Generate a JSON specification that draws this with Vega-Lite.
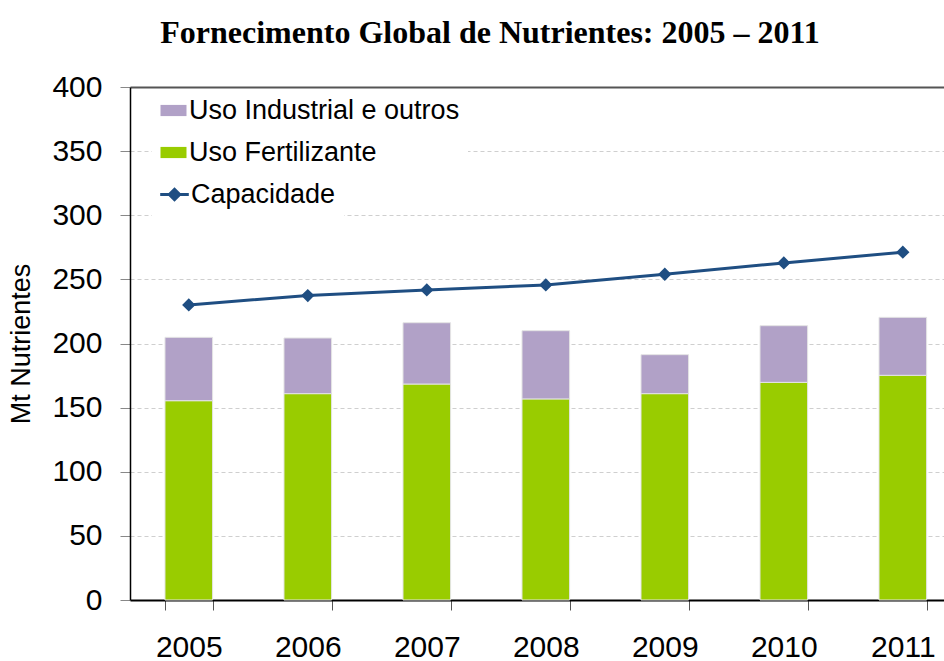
{
  "$schema": "https://vega.github.io/schema/vega-lite/v6.json",
  "width": 814,
  "height": 513,
  "autosize": {"type": "none"},
  "padding": {"left": 130, "top": 87, "right": 0, "bottom": 61},
  "background": "white",
  "title": {
    "text": "Fornecimento Global de Nutrientes: 2005 – 2011",
    "font": "Liberation Serif",
    "fontSize": 32,
    "fontWeight": "bold",
    "color": "black",
    "anchor": "middle",
    "frame": "group",
    "dx": -47,
    "offset": 22
  },
  "datasets": {
    "barras": [
      {"ano": "2005", "serie": "Uso Fertilizante", "valor": 155.4},
      {"ano": "2005", "serie": "Uso Industrial e outros", "valor": 49.4},
      {"ano": "2006", "serie": "Uso Fertilizante", "valor": 160.9},
      {"ano": "2006", "serie": "Uso Industrial e outros", "valor": 43.4},
      {"ano": "2007", "serie": "Uso Fertilizante", "valor": 168.4},
      {"ano": "2007", "serie": "Uso Industrial e outros", "valor": 47.8},
      {"ano": "2008", "serie": "Uso Fertilizante", "valor": 156.8},
      {"ano": "2008", "serie": "Uso Industrial e outros", "valor": 53.2},
      {"ano": "2009", "serie": "Uso Fertilizante", "valor": 160.9},
      {"ano": "2009", "serie": "Uso Industrial e outros", "valor": 30.4},
      {"ano": "2010", "serie": "Uso Fertilizante", "valor": 169.7},
      {"ano": "2010", "serie": "Uso Industrial e outros", "valor": 44.2},
      {"ano": "2011", "serie": "Uso Fertilizante", "valor": 175.2},
      {"ano": "2011", "serie": "Uso Industrial e outros", "valor": 45.2}
    ],
    "capacidade": [
      {"ano": "2005", "serie": "Capacidade", "valor": 230.1},
      {"ano": "2006", "serie": "Capacidade", "valor": 237.4},
      {"ano": "2007", "serie": "Capacidade", "valor": 241.8},
      {"ano": "2008", "serie": "Capacidade", "valor": 245.7},
      {"ano": "2009", "serie": "Capacidade", "valor": 254.0},
      {"ano": "2010", "serie": "Capacidade", "valor": 262.8},
      {"ano": "2011", "serie": "Capacidade", "valor": 271.2}
    ]
  },
  "encoding": {
    "x": {
      "field": "ano",
      "type": "ordinal",
      "scale": {"paddingInner": 0.6, "paddingOuter": 0.22, "align": 0.668},
      "axis": {
        "title": null,
        "labelAngle": 0,
        "labelFont": "Liberation Sans",
        "labelFontSize": 30,
        "labelColor": "black",
        "labelPadding": 22,
        "tickBand": "extent",
        "tickSize": 10,
        "tickColor": "#555",
        "tickWidth": 1,
        "domainColor": "black",
        "domainWidth": 2,
        "grid": false
      }
    }
  },
  "layer": [
    {
      "data": {"name": "barras"},
      "mark": {"type": "bar", "stroke": "#e4e4e4", "strokeWidth": 1},
      "encoding": {
        "y": {
          "field": "valor",
          "type": "quantitative",
          "stack": "zero",
          "scale": {"domain": [0, 400], "nice": false},
          "axis": {
            "title": "Mt Nutrientes",
            "titleFont": "Liberation Sans",
            "titleFontSize": 27,
            "titleFontWeight": "normal",
            "titleColor": "black",
            "titlePadding": 16,
            "values": [0, 50, 100, 150, 200, 250, 300, 350, 400],
            "labelFont": "Liberation Sans",
            "labelFontSize": 30,
            "labelColor": "black",
            "labelPadding": 18,
            "tickSize": 10,
            "tickColor": "#888",
            "domainColor": "black",
            "domainWidth": 1.5,
            "grid": true,
            "gridColor": {"condition": {"test": "datum.value === 400", "value": "#555"}, "value": "#cfcfcf"},
            "gridDash": {"condition": {"test": "datum.value === 400", "value": []}, "value": [4, 3]},
            "gridWidth": {"condition": {"test": "datum.value === 400", "value": 2}, "value": 1}
          }
        },
        "fill": {
          "field": "serie",
          "type": "nominal",
          "scale": {
            "domain": ["Uso Industrial e outros", "Uso Fertilizante"],
            "range": ["#b1a1c7", "#99cc00"]
          },
          "legend": {
            "title": null,
            "orient": "none",
            "legendX": 22,
            "legendY": 2,
            "fillColor": "white",
            "padding": 8,
            "labelFont": "Liberation Sans",
            "labelFontSize": 27,
            "labelColor": "black",
            "labelLimit": 400,
            "labelOffset": 2,
            "symbolSize": 676,
            "symbolType": "M-1,-0.43H1V0.43H-1Z",
            "symbolStrokeWidth": 0,
            "rowPadding": 14
          }
        },
        "order": {"field": "serie", "sort": "ascending"}
      }
    },
    {
      "data": {"name": "capacidade"},
      "mark": {
        "type": "line",
        "strokeWidth": 3,
        "point": {"shape": "diamond", "size": 110, "filled": true, "fill": "#1f4e82", "color": "#1f4e82"}
      },
      "encoding": {
        "y": {"field": "valor", "type": "quantitative"},
        "stroke": {
          "field": "serie",
          "type": "nominal",
          "scale": {"domain": ["Capacidade"], "range": ["#1f4e82"]},
          "legend": {
            "title": null,
            "orient": "none",
            "legendX": 22,
            "legendY": 85,
            "fillColor": "white",
            "padding": 8,
            "labelFont": "Liberation Sans",
            "labelFontSize": 27,
            "labelColor": "black",
            "labelLimit": 400,
            "labelOffset": 2,
            "symbolSize": 676,
            "symbolType": "M-1.1,0H1.1M0,-0.4L0.4,0L0,0.4L-0.4,0Z",
            "symbolFillColor": "#1f4e82",
            "symbolStrokeWidth": 3
          }
        }
      }
    }
  ],
  "config": {
    "view": {"stroke": null},
    "axis": {"labelFont": "Liberation Sans"}
  }
}
